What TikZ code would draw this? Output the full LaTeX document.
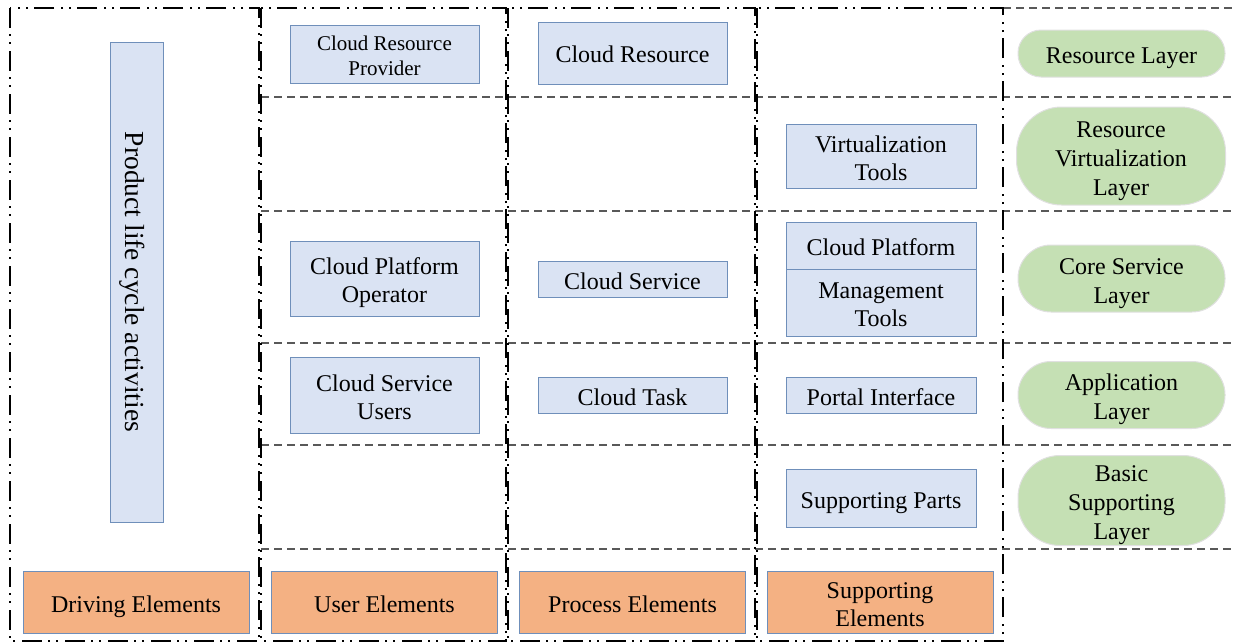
\documentclass[tikz,border=0pt]{standalone}
\usepackage{fontspec}
\setmainfont{Liberation Serif}
\begin{document}
\begin{tikzpicture}[x=1pt,y=-1pt,
  colbox/.style={draw=black,line width=1.8pt,
    dash pattern=on 20pt off 6pt on 2pt off 6pt on 2pt off 7pt},
  rowline/.style={draw=black!65,line width=1.5pt,dash pattern=on 8pt off 5pt},
  struts/.style={execute at begin node={\rule{0pt}{1.083em}},
                 execute at end node={\rule[-0.25em]{0pt}{0.25em}}},
  % fixed height above the last baseline for a text of #1 lines
  multi/.style={execute at begin node={\rule{0pt}{\dimexpr 1.083em+#1\baselineskip-\baselineskip\relax}}},
  elem/.style={draw=blue!35!gray!90,line width=1pt,fill=blue!15!white!90!cyan!40!white,
    inner sep=0pt,align=center,font=\fontsize{24}{28}\selectfont,struts},
  kind/.style={draw=blue!35!gray!90,line width=1pt,fill=orange!50!red!20!orange!55!white,
    inner sep=0pt,align=center,font=\fontsize{24}{28}\selectfont,struts,
    minimum width=226pt,minimum height=62pt},
  layer/.style={draw=gray!25,line width=1pt,fill=green!35!olive!25!white,
    inner sep=0pt,align=center,font=\fontsize{24}{29}\selectfont,struts,minimum width=207pt}
]
\useasboundingbox (0,0) rectangle (1236,643);
\definecolor{boxblue}{HTML}{DAE3F3}
\definecolor{boxedge}{HTML}{6F8FBA}
\definecolor{kindorange}{HTML}{F4B183}
\definecolor{layergreen}{HTML}{C5E0B4}
\tikzset{elem/.append style={fill=boxblue,draw=boxedge},
         kind/.append style={fill=kindorange,draw=boxedge},
         layer/.append style={fill=layergreen,draw=black!12}}

% row separators
\foreach \yy in {97,211,343,445,549}
  \draw[rowline] (261,\yy) -- (1236,\yy);
\draw[rowline] (1003,8) -- (1236,8);

% column frames
\draw[colbox] (10,8) rectangle (259,641);
\draw[colbox] (261,8) rectangle (506,641);
\draw[colbox] (508,8) rectangle (755,641);
\draw[colbox] (757,8) rectangle (1003,641);

% driving column
\node[elem,minimum width=53pt,minimum height=480pt] (plc) at (136.5,282) {};
\node[rotate=-90,font=\fontsize{27.5}{32}\selectfont,inner sep=0pt,struts] (plctext) at (plc.center) {Product life cycle activities};

% user column
\node[elem,multi=2,minimum width=189pt,minimum height=58pt,font=\fontsize{21}{25}\selectfont] (crp) at (384.5,54) {Cloud Resource\\Provider};
\node[elem,multi=2,minimum width=189pt,minimum height=75pt] (cpo) at (384.5,278.5) {Cloud Platform\\Operator};
\node[elem,multi=2,minimum width=189pt,minimum height=76pt] (csu) at (384.5,395) {Cloud Service\\Users};

% process column
\node[elem,minimum width=189pt,minimum height=62pt] (cr) at (632.5,53) {Cloud Resource};
\node[elem,minimum width=189pt,minimum height=36pt] (cs) at (632.5,279) {Cloud Service};
\node[elem,minimum width=189pt,minimum height=36pt] (ct) at (632.5,395) {Cloud Task};

% supporting column
\node[elem,multi=2,minimum width=190pt,minimum height=64pt] (vt) at (881,156) {Virtualization\\Tools};
\node[elem,minimum width=190pt,minimum height=47pt] (cpm) at (881,245.5) {Cloud Platform};
\node[elem,multi=2,minimum width=190pt,minimum height=67pt] (mt) at (881,302.5) {Management\\Tools};
\node[elem,minimum width=190pt,minimum height=36pt] (pi) at (881,395) {Portal Interface};
\node[elem,minimum width=190pt,minimum height=58pt] (sp) at (881,498) {Supporting Parts};

% element kinds
\node[kind] (de) at (136,602) {Driving Elements};
\node[kind] (ue) at (384.5,602) {User Elements};
\node[kind] (pe) at (632.5,602) {Process Elements};
\node[kind,multi=2] (se) at (880,602) {Supporting\\Elements};

% layers
\node[layer,minimum height=47pt,rounded corners=23pt] (rl) at (1121.5,53.5) {Resource Layer};
\node[layer,multi=3,minimum height=98pt,minimum width=209pt,rounded corners=45pt] (rvl) at (1121,156) {Resource\\Virtualization\\Layer};
\node[layer,multi=2,minimum height=67pt,rounded corners=33pt] (csl) at (1121.5,278.5) {Core Service\\Layer};
\node[layer,multi=2,minimum height=67pt,rounded corners=33pt] (al) at (1121.5,395) {Application\\Layer};
\node[layer,multi=3,minimum height=87pt,rounded corners=42pt] (bsl) at (1121.5,500.5) {Basic\\Supporting\\Layer};
\end{tikzpicture}
\end{document}
